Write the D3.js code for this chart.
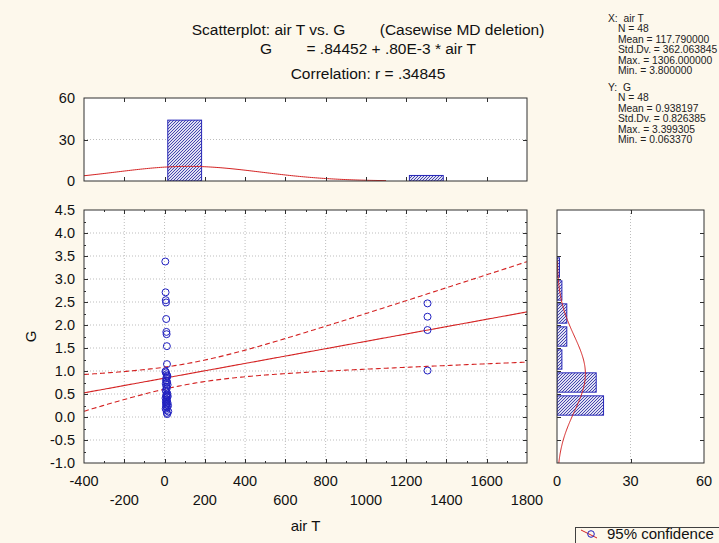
<!DOCTYPE html>
<html>
<head>
<meta charset="utf-8">
<script src="https://cdn.jsdelivr.net/npm/d3@7"></script>
<style>
  html, body { margin: 0; padding: 0; background: #fdf8ec; }
  svg { display: block; font-family: "Liberation Sans", Arial, sans-serif; }
</style>
</head>
<body>
<svg id="chart" width="719" height="543"></svg>
<script>
// ---- data: air T (x) and G (y), 48 cases ----
const airT = [
  3.8, 5.2, 6.0, 7.5, 8.1, 9.0, 10.2, 11.5, 12.0, 4.5, 6.8,
  9.6, 13.1, 14.0, 8.8, 7.2, 10.9, 12.6, 5.9, 15.2, 9.3, 11.0,
  6.4, 8.4, 13.7, 10.5, 7.8, 16.0, 12.2, 4.9, 9.9, 11.8, 6.6,
  14.6, 8.0, 10.0, 17.5, 7.0, 12.9, 5.5, 9.4, 18.4, 11.3, 13.4,
  1306, 1306, 1306, 1306
];
const G = [
  3.38, 2.71, 2.54, 2.49, 2.13, 1.85, 1.80, 1.54, 1.15, 0.99, 0.97,
  0.93, 0.90, 0.88, 0.85, 0.80, 0.78, 0.75, 0.72, 0.70, 0.66, 0.62,
  0.58, 0.55, 0.51, 0.48, 0.46, 0.45, 0.43, 0.41, 0.38, 0.35, 0.33,
  0.31, 0.29, 0.27, 0.25, 0.23, 0.21, 0.18, 0.15, 0.12, 0.09, 0.063,
  2.47, 2.18, 1.89, 1.01
];

// marginal histogram of air T (bin edges and counts)
const xBinLo = [0, 1200];
const xBinHi = [200, 1400];
const xBinCount = [44, 4];

// marginal histogram of G
const gBinLo = [0, 0.5, 1.0, 1.5, 2.0, 2.5, 3.0];
const gBinHi = [0.5, 1.0, 1.5, 2.0, 2.5, 3.0, 3.5];
const gBinCount = [19, 16, 2, 4, 4, 2, 1];

// tick values
const xTicksRow1 = [-400, 0, 400, 800, 1200, 1600];
const xTicksRow2 = [-200, 200, 600, 1000, 1400, 1800];
const yTicks = [4.5, 4.0, 3.5, 3.0, 2.5, 2.0, 1.5, 1.0, 0.5, 0.0, -0.5, -1.0];
const countTicks = [0, 30, 60];

// fit and descriptive statistics
const intercept = 0.84452, slope = 0.80e-3, rCorr = 0.34845;
const nCases = 48;
const xMean = 117.79, xSd = 362.063845;
const gMean = 0.938197, gSd = 0.826385;
const tCrit = 2.0129;

const titleLines = [
  "Scatterplot: air T vs. G        (Casewise MD deletion)",
  "G        = .84452 + .80E-3 * air T",
  "Correlation: r = .34845"
];
const statsX = ["X:  air T", "N = 48", "Mean = 117.790000", "Std.Dv. = 362.063845", "Max. = 1306.000000", "Min. = 3.800000"];
const statsY = ["Y:  G", "N = 48", "Mean = 0.938197", "Std.Dv. = 0.826385", "Max. = 3.399305", "Min. = 0.063370"];

// ---- layout ----
const svg = d3.select("#chart");
const M = { x0: 84, x1: 527, y0: 210, y1: 463 };   // scatter panel
const T = { y0: 98, y1: 181 };                      // top histogram
const R = { x0: 557, x1: 704 };                     // right histogram

const RED = "#d42222", BLUE = "#2020c0", FRAME = "#303030", GRID = "#bdbdbd";

const x = d3.scaleLinear().domain([-400, 1800]).range([M.x0, M.x1]);
const y = d3.scaleLinear().domain([-1, 4.5]).range([M.y1, M.y0]);
const yTop = d3.scaleLinear().domain([0, 60]).range([T.y1, T.y0]);
const xRight = d3.scaleLinear().domain([0, 60]).range([R.x0, R.x1]);

// hatch pattern for histogram bars
const defs = svg.append("defs");
const pat = defs.append("pattern").attr("id", "hatch")
  .attr("patternUnits", "userSpaceOnUse").attr("width", 3).attr("height", 3);
pat.append("rect").attr("width", 3).attr("height", 3).attr("fill", "#dfe0f2");
pat.append("path").attr("d", "M-1,1 l2,-2 M0,3 l3,-3 M2,4 l2,-2")
  .attr("stroke", "#3434a6").attr("stroke-width", 0.9);
defs.append("clipPath").attr("id", "clipMain").append("rect")
  .attr("x", M.x0).attr("y", M.y0).attr("width", M.x1 - M.x0).attr("height", M.y1 - M.y0);
defs.append("clipPath").attr("id", "clipTop").append("rect")
  .attr("x", M.x0).attr("y", T.y0).attr("width", M.x1 - M.x0).attr("height", T.y1 - T.y0);
defs.append("clipPath").attr("id", "clipRight").append("rect")
  .attr("x", R.x0).attr("y", M.y0).attr("width", R.x1 - R.x0).attr("height", M.y1 - M.y0);

// panel backgrounds
svg.append("rect").attr("x", M.x0).attr("y", M.y0).attr("width", M.x1 - M.x0).attr("height", M.y1 - M.y0).attr("fill", "#fff");
svg.append("rect").attr("x", M.x0).attr("y", T.y0).attr("width", M.x1 - M.x0).attr("height", T.y1 - T.y0).attr("fill", "#fff");
svg.append("rect").attr("x", R.x0).attr("y", M.y0).attr("width", R.x1 - R.x0).attr("height", M.y1 - M.y0).attr("fill", "#fff");

// ---- title ----
svg.append("g").selectAll("text").data(titleLines).join("text")
  .attr("x", 368).attr("y", (d, i) => [35, 54, 79][i])
  .attr("text-anchor", "middle").attr("font-size", 15.5).attr("fill", "#111")
  .attr("xml:space", "preserve").style("white-space", "pre")
  .text(d => d);

// ---- descriptive statistics ----
function statsBlock(lines, top) {
  svg.append("g").selectAll("text").data(lines).join("text")
    .attr("x", (d, i) => i === 0 ? 608 : 618)
    .attr("y", (d, i) => top + i * 10.45)
    .attr("font-size", 10.3).attr("fill", "#222")
    .attr("xml:space", "preserve").style("white-space", "pre")
    .text(d => d);
}
statsBlock(statsX, 22);
statsBlock(statsY, 91);

// ---- gridlines ----
const grid = svg.append("g").attr("stroke", GRID).attr("stroke-dasharray", "1,2").attr("stroke-width", 1);
d3.range(-200, 1800, 200).forEach(v => {
  grid.append("line").attr("x1", x(v)).attr("x2", x(v)).attr("y1", M.y0).attr("y2", M.y1);
});
yTicks.filter(v => v > -1 && v < 4.5).forEach(v => {
  grid.append("line").attr("x1", M.x0).attr("x2", M.x1).attr("y1", y(v)).attr("y2", y(v));
});
grid.append("line").attr("x1", M.x0).attr("x2", M.x1).attr("y1", yTop(30)).attr("y2", yTop(30));
grid.append("line").attr("x1", xRight(30)).attr("x2", xRight(30)).attr("y1", M.y0).attr("y2", M.y1);

// ---- regression line with 95% confidence band ----
const sxx = (nCases - 1) * xSd * xSd;
const sRes = gSd * Math.sqrt((1 - rCorr * rCorr) * (nCases - 1) / (nCases - 2));
const xs = d3.range(-400, 1800.1, 10);
const fit = v => intercept + slope * v;
const half = v => tCrit * sRes * Math.sqrt(1 / nCases + (v - xMean) ** 2 / sxx);
const line = d3.line().x(d => x(d[0])).y(d => y(d[1]));
const main = svg.append("g").attr("clip-path", "url(#clipMain)");
main.append("path").attr("d", line(xs.map(v => [v, fit(v)])))
  .attr("fill", "none").attr("stroke", RED).attr("stroke-width", 1.1);
[1, -1].forEach(sg => {
  main.append("path").attr("d", line(xs.map(v => [v, fit(v) + sg * half(v)])))
    .attr("fill", "none").attr("stroke", RED).attr("stroke-width", 1.1).attr("stroke-dasharray", "5,3");
});

// ---- scatter points ----
main.append("g").selectAll("circle").data(airT.map((v, i) => [v, G[i]])).join("circle")
  .attr("cx", d => x(d[0])).attr("cy", d => y(d[1])).attr("r", 3.5)
  .attr("fill", "none").attr("stroke", BLUE).attr("stroke-width", 1);

// ---- top histogram (air T) ----
const topG = svg.append("g").attr("clip-path", "url(#clipTop)");
topG.selectAll("rect").data(xBinCount).join("rect")
  .attr("x", (d, i) => x(xBinLo[i] + 0.08 * (xBinHi[i] - xBinLo[i])))
  .attr("width", (d, i) => x(xBinHi[i] - 0.08 * (xBinHi[i] - xBinLo[i])) - x(xBinLo[i] + 0.08 * (xBinHi[i] - xBinLo[i])))
  .attr("y", d => yTop(d)).attr("height", d => yTop(0) - yTop(d))
  .attr("fill", "url(#hatch)").attr("stroke", "#2626b8").attr("stroke-width", 1);
const xBinW = xBinHi[0] - xBinLo[0];
const normX = v => nCases * xBinW / (xSd * Math.sqrt(2 * Math.PI)) * Math.exp(-0.5 * ((v - xMean) / xSd) ** 2);
topG.append("path")
  .attr("d", d3.line().x(d => x(d)).y(d => yTop(normX(d)))(d3.range(-400, 1100.1, 10)))
  .attr("fill", "none").attr("stroke", RED).attr("stroke-width", 1);

// ---- right histogram (G) ----
const rightG = svg.append("g").attr("clip-path", "url(#clipRight)");
rightG.selectAll("rect").data(gBinCount).join("rect")
  .attr("x", xRight(0)).attr("width", d => xRight(d) - xRight(0))
  .attr("y", (d, i) => y(gBinHi[i] - 0.08 * (gBinHi[i] - gBinLo[i])))
  .attr("height", (d, i) => y(gBinLo[i] + 0.08 * (gBinHi[i] - gBinLo[i])) - y(gBinHi[i] - 0.08 * (gBinHi[i] - gBinLo[i])))
  .attr("fill", "url(#hatch)").attr("stroke", "#2626b8").attr("stroke-width", 1);
const gBinW = gBinHi[0] - gBinLo[0];
const normG = v => nCases * gBinW / (gSd * Math.sqrt(2 * Math.PI)) * Math.exp(-0.5 * ((v - gMean) / gSd) ** 2);
rightG.append("path")
  .attr("d", d3.line().x(d => xRight(normG(d))).y(d => y(d))(d3.range(-1, 3.401, 0.02)))
  .attr("fill", "none").attr("stroke", RED).attr("stroke-width", 1);

// ---- frames and inward ticks ----
const frames = svg.append("g").attr("fill", "none").attr("stroke", FRAME).attr("stroke-width", 1);
frames.append("rect").attr("x", M.x0).attr("y", M.y0).attr("width", M.x1 - M.x0).attr("height", M.y1 - M.y0);
frames.append("rect").attr("x", M.x0).attr("y", T.y0).attr("width", M.x1 - M.x0).attr("height", T.y1 - T.y0);
frames.append("rect").attr("x", R.x0).attr("y", M.y0).attr("width", R.x1 - R.x0).attr("height", M.y1 - M.y0);

const ticks = svg.append("g").attr("stroke", FRAME).attr("stroke-width", 1);
function hTicks(vals, len, yTopEdge, yBotEdge) {
  vals.forEach(v => {
    const px = Math.round(x(v)) + 0.5;
    ticks.append("line").attr("x1", px).attr("x2", px).attr("y1", yBotEdge).attr("y2", yBotEdge - len);
    ticks.append("line").attr("x1", px).attr("x2", px).attr("y1", yTopEdge).attr("y2", yTopEdge + len);
  });
}
hTicks(d3.range(-200, 1800, 200), 4, M.y0, M.y1);
hTicks(d3.range(-300, 1800, 200), 2, M.y0, M.y1);
hTicks(d3.range(-200, 1800, 200), 4, T.y0, T.y1);
function vTicks(vals, len, xl, xr) {
  vals.forEach(v => {
    const py = Math.round(y(v)) + 0.5;
    ticks.append("line").attr("x1", xl).attr("x2", xl + len).attr("y1", py).attr("y2", py);
    ticks.append("line").attr("x1", xr).attr("x2", xr - len).attr("y1", py).attr("y2", py);
  });
}
vTicks(d3.range(-0.5, 4.5, 0.5), 4, M.x0, M.x1);
vTicks(d3.range(-0.75, 4.5, 0.5), 2, M.x0, M.x1);
vTicks(d3.range(-0.5, 4.5, 0.5), 4, R.x0, R.x1);
[30].forEach(v => {
  const py = Math.round(yTop(v)) + 0.5;
  ticks.append("line").attr("x1", M.x0).attr("x2", M.x0 + 4).attr("y1", py).attr("y2", py);
  ticks.append("line").attr("x1", M.x1).attr("x2", M.x1 - 4).attr("y1", py).attr("y2", py);
  const px = Math.round(xRight(v)) + 0.5;
  ticks.append("line").attr("x1", px).attr("x2", px).attr("y1", M.y0).attr("y2", M.y0 + 4);
  ticks.append("line").attr("x1", px).attr("x2", px).attr("y1", M.y1).attr("y2", M.y1 - 4);
});

// ---- tick labels ----
const lab = svg.append("g").attr("font-size", 14.5).attr("fill", "#111");
lab.selectAll(".yl").data(yTicks).join("text")
  .attr("x", 75).attr("y", d => y(d) + 5).attr("text-anchor", "end")
  .text(d => d3.format(".1f")(d).replace("−", "-"));
lab.selectAll(".r1").data(xTicksRow1).join("text")
  .attr("x", d => x(d)).attr("y", 486).attr("text-anchor", "middle").text(d => d);
lab.selectAll(".r2").data(xTicksRow2).join("text")
  .attr("x", d => x(d)).attr("y", 505).attr("text-anchor", "middle").text(d => d);
lab.selectAll(".tl").data(countTicks).join("text")
  .attr("x", 75).attr("y", d => yTop(d) + 5).attr("text-anchor", "end").text(d => d);
lab.selectAll(".rl").data(countTicks).join("text")
  .attr("x", d => xRight(d)).attr("y", 486).attr("text-anchor", "middle").text(d => d);

// axis titles
lab.append("text").attr("x", (M.x0 + M.x1) / 2).attr("y", 531).attr("font-size", 15)
  .attr("text-anchor", "middle").text("air T");
lab.append("text").attr("transform", `translate(36,${(M.y0 + M.y1) / 2}) rotate(-90)`)
  .attr("font-size", 15).attr("text-anchor", "middle").text("G");

// ---- legend ----
const leg = svg.append("g");
leg.append("rect").attr("x", 575.5).attr("y", 527.5).attr("width", 150).attr("height", 30)
  .attr("fill", "#fdf8ec").attr("stroke", "#404040");
leg.append("line").attr("x1", 581).attr("y1", 530).attr("x2", 597).attr("y2", 538)
  .attr("stroke", RED).attr("stroke-width", 1);
leg.append("circle").attr("cx", 591).attr("cy", 534).attr("r", 3.3)
  .attr("fill", "none").attr("stroke", BLUE);
leg.append("text").attr("x", 607).attr("y", 538.5).attr("font-size", 15).attr("fill", "#111").text("95% confidence");
</script>
</body>
</html>
